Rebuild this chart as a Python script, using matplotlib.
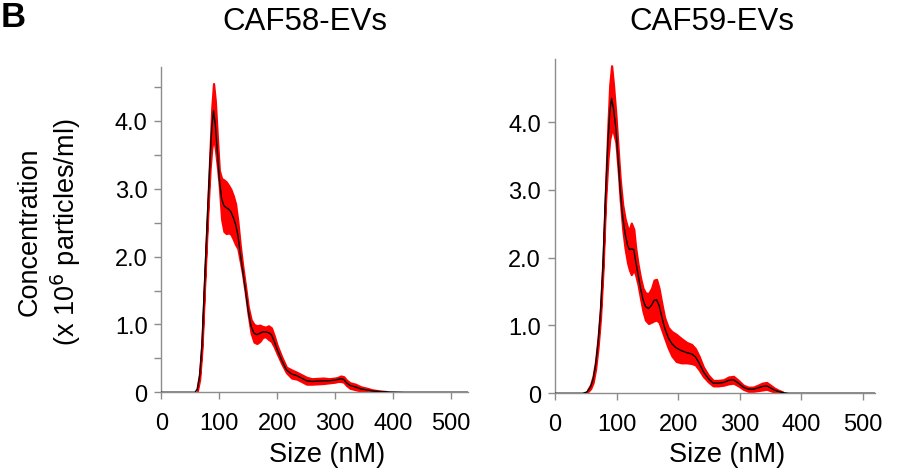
import matplotlib
matplotlib.use("Agg")
import matplotlib.pyplot as plt
import numpy as np
from matplotlib.ticker import MultipleLocator

plt.rcParams['font.family'] = ['Liberation Sans', 'DejaVu Sans']

# ---------------- data ----------------
caf58_size = [0, 50, 58, 62, 66, 70, 75, 80, 84, 87, 90, 93, 97, 100, 104, 108, 112,
              116, 120, 124, 128, 132, 136, 140, 145, 150, 155, 160, 165, 170, 175,
              180, 185, 190, 195, 200, 208, 216, 225, 234, 242, 251, 260, 270, 280,
              290, 300, 305, 310, 315, 320, 326, 335, 345, 355, 365, 378, 390, 420, 530]
caf58_mean = [0, 0, 0.0, 0.05, 0.24, 0.7, 1.72, 2.7, 3.44, 3.9, 4.15, 3.95, 3.5, 3.15,
              2.85, 2.75, 2.72, 2.70, 2.66, 2.58, 2.48, 2.32, 2.06, 1.82, 1.52, 1.2,
              0.97, 0.87, 0.85, 0.87, 0.89, 0.89, 0.88, 0.85, 0.75, 0.63, 0.47, 0.33,
              0.27, 0.245, 0.21, 0.17, 0.16, 0.165, 0.17, 0.17, 0.18, 0.19, 0.2, 0.19,
              0.14, 0.1, 0.08, 0.05, 0.035, 0.02, 0.01, 0.005, 0, 0]
caf58_sd = [0, 0, 0, 0.03, 0.05, 0.06, 0.06, 0.08, 0.15, 0.3, 0.4, 0.35, 0.2, 0.12,
            0.3, 0.38, 0.38, 0.35, 0.33, 0.32, 0.3, 0.2, 0.12, 0.07, 0.06, 0.06, 0.1,
            0.13, 0.13, 0.12, 0.08, 0.07, 0.1, 0.1, 0.08, 0.06, 0.05, 0.04, 0.06,
            0.05, 0.05, 0.05, 0.04, 0.04, 0.04, 0.03, 0.03, 0.03, 0.04, 0.04, 0.04,
            0.04, 0.04, 0.03, 0.025, 0.015, 0.01, 0.005, 0, 0]

caf59_size = [0, 45, 52, 58, 62, 66, 70, 74, 78, 82, 86, 89, 92, 95, 99, 103, 106, 110,
              114, 118, 121, 124, 128, 131, 135, 139, 143, 147, 152, 157, 161, 165, 169,
              173, 178, 184, 190, 197, 205, 214, 222, 228, 234, 241, 249, 257, 265, 274,
              282, 290, 298, 306, 314, 322, 330, 337, 344, 350, 356, 362, 370, 380, 400, 520]
caf59_mean = [0, 0, 0.02, 0.1, 0.21, 0.42, 0.75, 1.2, 1.9, 2.9, 3.7, 4.15, 4.35, 4.2,
              3.9, 3.4, 3.0, 2.6, 2.35, 2.18, 2.12, 2.13, 2.12, 1.95, 1.75, 1.55, 1.38,
              1.28, 1.25, 1.3, 1.37, 1.38, 1.3, 1.15, 0.97, 0.82, 0.73, 0.67, 0.63, 0.6,
              0.58, 0.54, 0.45, 0.32, 0.22, 0.15, 0.15, 0.16, 0.19, 0.2, 0.15, 0.09,
              0.06, 0.06, 0.08, 0.1, 0.11, 0.08, 0.05, 0.03, 0.01, 0, 0, 0]
caf59_sd = [0, 0, 0.01, 0.03, 0.05, 0.06, 0.07, 0.08, 0.08, 0.1, 0.25, 0.4, 0.48, 0.35,
            0.2, 0.15, 0.15, 0.18, 0.22, 0.26, 0.3, 0.38, 0.3, 0.2, 0.15, 0.15, 0.17,
            0.2, 0.22, 0.25, 0.3, 0.3, 0.25, 0.2, 0.15, 0.15, 0.18, 0.2, 0.18, 0.15,
            0.14, 0.12, 0.1, 0.07, 0.05, 0.04, 0.04, 0.04, 0.05, 0.05, 0.04, 0.03,
            0.03, 0.03, 0.04, 0.05, 0.05, 0.04, 0.03, 0.02, 0.01, 0, 0, 0]

titles = ["CAF58-EVs", "CAF59-EVs"]
x_ticks = [0, 100, 200, 300, 400, 500]
y_ticks = [0, 1, 2, 3, 4]
y_ticklabels = ["0", "1.0", "2.0", "3.0", "4.0"]

# ---------------- figure ----------------
W, H = 903, 477
fig = plt.figure(figsize=(W / 100, H / 100), dpi=100)

def px_axes(left, top, right, bottom):
    return fig.add_axes([left / W, 1 - bottom / H, (right - left) / W, (bottom - top) / H])

ax1 = px_axes(161.5, 68.3, 468, 393.3)
ax2 = px_axes(555, 60, 875, 394.3)

spine_col = "#8c8c8c"
panels = [
    (ax1, caf58_size, caf58_mean, caf58_sd, (0, 530), (0, 4.79), True),
    (ax2, caf59_size, caf59_mean, caf59_sd, (0, 520), (0, 4.93), False),
]
for ax, xs, m, s, xl, yl, minor in panels:
    xs = np.array(xs, float)
    m = np.array(m, float)
    s = np.array(s, float)
    ax.fill_between(xs, np.clip(m - s, 0, None), m + s, where=s > 0,
                    facecolor="#ff0000", edgecolor="#ff0000", lw=1.6, zorder=2)
    ax.plot(xs, m, color="black", lw=1.0, zorder=3)
    ax.set_xlim(*xl)
    ax.set_ylim(*yl)
    ax.set_xticks(x_ticks)
    ax.set_xticklabels([str(t) for t in x_ticks])
    ax.set_yticks(y_ticks)
    ax.set_yticklabels(y_ticklabels)
    if minor:
        ax.yaxis.set_minor_locator(MultipleLocator(0.5))
    for side in ("top", "right"):
        ax.spines[side].set_visible(False)
    for side in ("left", "bottom"):
        ax.spines[side].set_color(spine_col)
        ax.spines[side].set_linewidth(1.0)
    ax.tick_params(axis="both", which="both", color=spine_col, width=1.0,
                   labelsize=17, direction="out")
    ax.tick_params(axis="y", which="major", length=5, pad=5)
    ax.tick_params(axis="y", which="minor", length=5)
    ax.tick_params(axis="x", which="major", length=5, pad=9)

fig.text(305 / W, 1 - 22 / H, titles[0], fontsize=22.5, ha="center", va="center")
fig.text(712 / W, 1 - 22 / H, titles[1], fontsize=22.5, ha="center", va="center")
fig.text(327 / W, 1 - 455 / H, "Size (nM)", fontsize=19.5, ha="center", va="center")
fig.text(727 / W, 1 - 455 / H, "Size (nM)", fontsize=19.5, ha="center", va="center")
fig.text(30 / W, 1 - 232 / H, "Concentration", fontsize=19.5, rotation=90,
         ha="center", va="center")
fig.text(66 / W, 1 - 232 / H, r"(x 10$^{6}$ particles/ml)", fontsize=19.5, rotation=90,
         ha="center", va="center")
fig.text(1 / W, 1 - 27 / H, "B", fontsize=25, fontweight="bold", ha="left", va="baseline")

fig.savefig("out.png", dpi=100)
